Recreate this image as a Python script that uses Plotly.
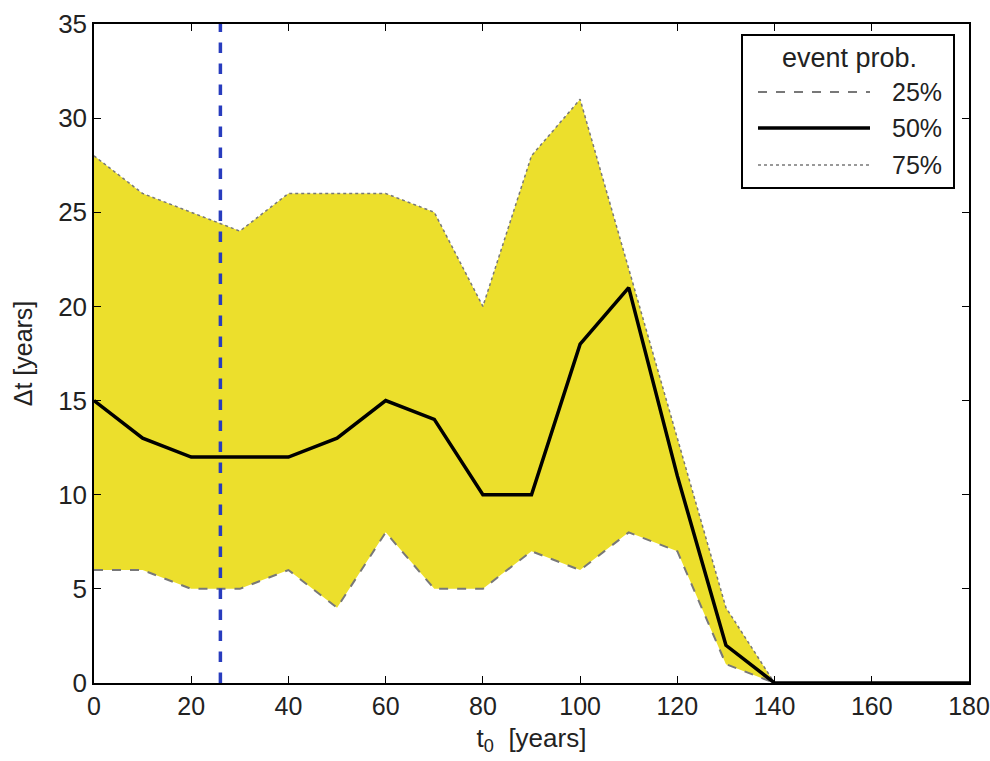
import plotly.graph_objects as go

# Start times t0 (years) and quantiles of the waiting time Δt (years)
t0 = [0, 10, 20, 30, 40, 50, 60, 70, 80, 90, 100, 110, 120, 130, 140, 150, 160, 170, 180]
p25 = [6, 6, 5, 5, 6, 4, 8, 5, 5, 7, 6, 8, 7, 1, 0, 0, 0, 0, 0]
p50 = [15, 13, 12, 12, 12, 13, 15, 14, 10, 10, 18, 21, 11, 2, 0, 0, 0, 0, 0]
p75 = [28, 26, 25, 24, 26, 26, 26, 25, 20, 28, 31, 22, 13, 4, 0, 0, 0, 0, 0]

# Present-day marker
t_now = 26

legend_title = "event prob."
legend_labels = ["25%", "50%", "75%"]

x_ticks = [0, 20, 40, 60, 80, 100, 120, 140, 160, 180]
y_ticks = [0, 5, 10, 15, 20, 25, 30, 35]

YELLOW = "rgb(236,223,44)"
GREY = "rgb(120,120,120)"
BLUE = "rgb(40,60,190)"
TEXT = "#222"
FONT = "Liberation Sans, Arial, sans-serif"

fig = go.Figure()

fig.add_trace(go.Scatter(
    x=t0, y=p25, mode="lines",
    line=dict(color=GREY, width=2, dash="dash"),
    showlegend=False, hoverinfo="skip"))
fig.add_trace(go.Scatter(
    x=t0, y=p75, mode="lines", fill="tonexty", fillcolor=YELLOW,
    line=dict(color=GREY, width=1.5, dash="dot"),
    showlegend=False, hoverinfo="skip"))
fig.add_trace(go.Scatter(
    x=t0, y=p50, mode="lines",
    line=dict(color="black", width=3.5),
    showlegend=False))
fig.add_trace(go.Scatter(
    x=[t_now, t_now], y=[0, 35], mode="lines",
    line=dict(color=BLUE, width=3.5, dash="dash"),
    showlegend=False))

axis_common = dict(
    showline=True, linecolor="black", linewidth=1.5, mirror="allticks",
    ticks="inside", ticklen=7, tickwidth=1, tickcolor="black",
    showgrid=False, zeroline=False, ticklabeloverflow="allow",
    automargin=False,
)

fig.update_xaxes(range=[0, 180], tickvals=x_ticks,
                 tickfont=dict(family=FONT, size=25, color=TEXT),
                 title=dict(text="t<sub>0</sub>  [years]", font=dict(family=FONT, size=26, color=TEXT), standoff=10),
                 **axis_common)
fig.update_yaxes(range=[0, 35], tickvals=y_ticks,
                 tickfont=dict(family=FONT, size=26, color=TEXT),
                 title=dict(text="Δt [years]", font=dict(family=FONT, size=25, color=TEXT), standoff=18),
                 **axis_common)

# Legend box drawn in paper coordinates
W, H = 990, 761
L, R, T, B = 94, 21, 24, 78
pw, ph = W - L - R, H - T - B

def px(x):
    return (x - L) / pw

def py(y):
    return 1 - (y - T) / ph

shapes = [dict(type="rect", xref="paper", yref="paper",
               x0=px(742), x1=px(954), y0=py(188), y1=py(35),
               line=dict(color="black", width=2), fillcolor="white", layer="above")]
annotations = [dict(text=legend_title, xref="paper", yref="paper",
                    x=px(849), y=py(58), xanchor="center", yanchor="middle",
                    showarrow=False, font=dict(family=FONT, size=27, color=TEXT))]
styles = [dict(color=GREY, width=2, dash="dash"),
          dict(color="black", width=3.5),
          dict(color=GREY, width=1.5, dash="dot")]
rows = [92, 128, 165]
for lab, st, yy in zip(legend_labels, styles, rows):
    shapes.append(dict(type="line", xref="paper", yref="paper",
                       x0=px(758), x1=px(870), y0=py(yy), y1=py(yy),
                       line=st, layer="above"))
    annotations.append(dict(text=lab, xref="paper", yref="paper",
                            x=px(944), y=py(yy), xanchor="right", yanchor="middle",
                            showarrow=False, font=dict(family=FONT, size=25, color=TEXT)))

fig.update_layout(
    width=W, height=H,
    margin=dict(l=L, r=R, t=T, b=B),
    paper_bgcolor="white", plot_bgcolor="white",
    shapes=shapes, annotations=annotations,
    showlegend=False,
)

fig.write_html("out.html")
